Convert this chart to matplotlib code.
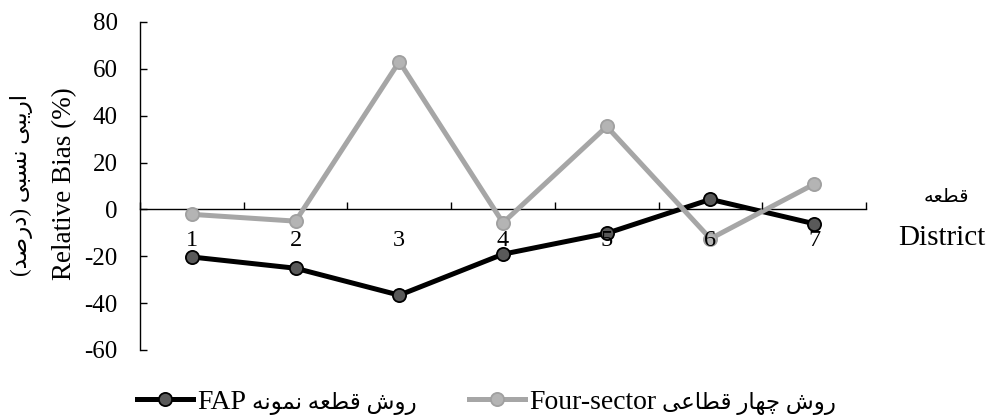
import numpy as np
import matplotlib
matplotlib.use('Agg')
import matplotlib.pyplot as plt

# Values
districts = [1, 2, 3, 4, 5, 6, 7]
fap_bias = [-20.3, -25.1, -36.6, -19.1, -10.2, 4.3, -6.1]
four_sector_bias = [-2.1, -5.0, 63.1, -5.7, 35.4, -12.5, 10.8]
y_ticks = [-60, -40, -20, 0, 20, 40, 60, 80]

name_fap = 'FAP'
name_four = 'Four-sector'
label_fap_fa = 'روش قطعه نمونه'
label_four_fa = 'روش چهار قطاعی'
ylabel_en = 'Relative Bias (%)'
ylabel_fa = 'اریبی نسبی (درصد)'
xlabel_en = 'District'
xlabel_fa = 'قطعه'

# matplotlib has no Arabic shaping: pick presentation forms by hand and reverse
# forms: isolated, final, initial, medial (None = letter does not join forward)
FORMS = {
    'ا': ('\uFE8D', '\uFE8E', None, None),
    'ب': ('\uFE8F', '\uFE90', '\uFE91', '\uFE92'),
    'چ': ('\uFB7A', '\uFB7B', '\uFB7C', '\uFB7D'),
    'د': ('\uFEA9', '\uFEAA', None, None),
    'ر': ('\uFEAD', '\uFEAE', None, None),
    'س': ('\uFEB1', '\uFEB2', '\uFEB3', '\uFEB4'),
    'ش': ('\uFEB5', '\uFEB6', '\uFEB7', '\uFEB8'),
    'ص': ('\uFEB9', '\uFEBA', '\uFEBB', '\uFEBC'),
    'ط': ('\uFEC1', '\uFEC2', '\uFEC3', '\uFEC4'),
    'ع': ('\uFEC9', '\uFECA', '\uFECB', '\uFECC'),
    'ق': ('\uFED5', '\uFED6', '\uFED7', '\uFED8'),
    'م': ('\uFEE1', '\uFEE2', '\uFEE3', '\uFEE4'),
    'ن': ('\uFEE5', '\uFEE6', '\uFEE7', '\uFEE8'),
    'ه': ('\uFEE9', '\uFEEA', '\uFEEB', '\uFEEC'),
    'و': ('\uFEED', '\uFEEE', None, None),
    'ی': ('\uFBFC', '\uFBFD', '\uFBFE', '\uFBFF'),
}
MIRROR = {'(': ')', ')': '('}


def shape_fa(text):
    """Return Persian text in visual (left-to-right) order with joined forms."""
    out = []
    for i, ch in enumerate(text):
        if ch not in FORMS:
            out.append(MIRROR.get(ch, ch))
            continue
        prev = text[i - 1] if i > 0 else ''
        nxt = text[i + 1] if i + 1 < len(text) else ''
        joins_prev = prev in FORMS and FORMS[prev][2] is not None
        joins_next = nxt in FORMS and FORMS[ch][2] is not None
        iso, fin, ini, med = FORMS[ch]
        if joins_prev and joins_next:
            out.append(med)
        elif joins_prev:
            out.append(fin)
        elif joins_next:
            out.append(ini)
        else:
            out.append(iso)
    return ''.join(reversed(out))


plt.rcParams['font.family'] = ['Liberation Serif', 'DejaVu Sans']

W, H = 992, 418
fig = plt.figure(figsize=(W / 100, H / 100), dpi=100)
ax = fig.add_axes([140 / W, 1 - 350 / H, 726 / W, 328 / H])

ax.plot(districts, fap_bias, color='black', lw=3.6, marker='o', ms=9.5,
        mfc='#595959', mec='black', mew=1.3, zorder=2, label=name_fap)
ax.plot(districts, four_sector_bias, color='#A6A6A6', lw=3.6, marker='o', ms=9.5,
        mfc='#B4B4B4', mec='#A0A0A0', mew=1.3, zorder=2.1, label=name_four)

ax.set_xlim(0.5, 7.5)
ax.set_ylim(-60, 80)
for side in ['top', 'right']:
    ax.spines[side].set_visible(False)
ax.spines['bottom'].set_position(('data', 0))
for side in ['left', 'bottom']:
    ax.spines[side].set_linewidth(1.0)
    ax.spines[side].set_zorder(1.5)
# category numbers sit on top of the lines, as in the original
ax.xaxis.set_zorder(3)

# category boundaries get the tick marks, category centres get the labels
ax.set_xticks(np.arange(0.5, 8.0, 1.0))
ax.set_xticklabels([])
ax.set_xticks(districts, minor=True)
ax.set_xticklabels([str(d) for d in districts], minor=True)
ax.tick_params(axis='x', which='major', direction='in', length=5, width=1.0)
ax.tick_params(axis='x', which='minor', length=0, pad=14.5, labelsize=17.5)

ax.set_yticks(y_ticks)
ax.set_yticklabels([str(v) for v in y_ticks])
ax.tick_params(axis='y', direction='in', length=5, width=1.0, pad=16, labelsize=18)

fig.text(65 / W, 1 - 184 / H, ylabel_en, rotation=90, ha='center', va='center',
         fontsize=19.5)
fig.text(22 / W, 1 - 185 / H, shape_fa(ylabel_fa), rotation=90, ha='center',
         va='center', fontsize=16.5)
fig.text(946 / W, 1 - 197 / H, shape_fa(xlabel_fa), ha='center', va='center',
         fontsize=14)
fig.text(942 / W, 1 - 245 / H, xlabel_en, ha='center', va='baseline', fontsize=21)

# legend: English names in the legend, Persian words set right after each name
leg = fig.legend(loc='center left', bbox_to_anchor=(137 / W, 1 - 402 / H), ncol=2,
                 frameon=False, fontsize=20, handlelength=2.0, handletextpad=0.15,
                 columnspacing=8.05, borderaxespad=0, borderpad=0)
fig.canvas.draw()
renderer = fig.canvas.get_renderer()
for txt, fa in zip(leg.get_texts(), [label_fap_fa, label_four_fa]):
    bb = txt.get_window_extent(renderer)
    fig.text((bb.x1 + 6) / W, (bb.y0 + bb.y1) / 2 / H - 1.5 / H, shape_fa(fa),
             ha='left', va='center', fontsize=16.5)

fig.savefig('out.png', dpi=100, facecolor='white')
